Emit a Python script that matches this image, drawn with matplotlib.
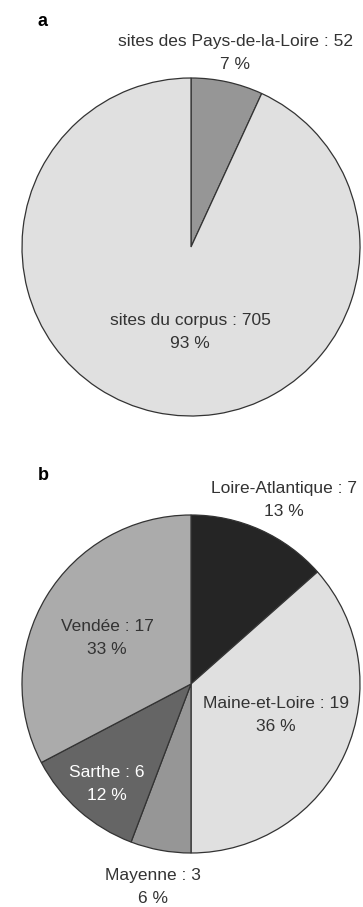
import matplotlib.pyplot as plt
from matplotlib import font_manager

# fonte étroite si disponible
names = {f.name for f in font_manager.fontManager.ttflist}
fam = ['Liberation Sans Narrow', 'DejaVu Sans'] if 'Liberation Sans Narrow' in names else ['Liberation Sans', 'DejaVu Sans']
plt.rcParams['font.family'] = fam

# données
labels_a = ['sites des Pays-de-la-Loire', 'sites du corpus']
values_a = [52, 705]
pct_a = [7, 93]
colors_a = ['#969696', '#e0e0e0']

labels_b = ['Loire-Atlantique', 'Maine-et-Loire', 'Mayenne', 'Sarthe', 'Vendée']
values_b = [7, 19, 3, 6, 17]
pct_b = [13, 36, 6, 12, 33]
colors_b = ['#252525', '#e0e0e0', '#969696', '#656565', '#ababab']

W, H = 363, 907
R = 169
fig = plt.figure(figsize=(W / 100, H / 100), dpi=100)


def pie_axes(cx, cy):
    ax = fig.add_axes([(cx - R) / W, (H - cy - R) / H, 2 * R / W, 2 * R / H])
    ax.axis('off')
    return ax


def lab(ax, cx, cy, px, py, text, color='#333333'):
    ax.text((px - cx) / R, (cy - py) / R, text, ha='center', va='center',
            fontsize=12.5, color=color, linespacing=1.65, clip_on=False)


# camembert a
cxa, cya = 191, 247
ax1 = pie_axes(cxa, cya)
ax1.pie(values_a, colors=colors_a, startangle=90, counterclock=False, radius=1,
        wedgeprops=dict(edgecolor='#333333', linewidth=0.9))
ax1.set_xlim(-1, 1)
ax1.set_ylim(-1, 1)
lab(ax1, cxa, cya, 235, 53, f'{labels_a[0]} : {values_a[0]}\n{pct_a[0]} %')
lab(ax1, cxa, cya, 190, 332, f'{labels_a[1]} : {values_a[1]}\n{pct_a[1]} %')
fig.text(43 / W, 1 - 21 / H, 'a', fontsize=13, fontweight='bold', ha='center', va='center',
         family=['Liberation Sans', 'DejaVu Sans'])

# camembert b
cxb, cyb = 191, 684
ax2 = pie_axes(cxb, cyb)
ax2.pie(values_b, colors=colors_b, startangle=90, counterclock=False, radius=1,
        wedgeprops=dict(edgecolor='#333333', linewidth=0.9))
ax2.set_xlim(-1, 1)
ax2.set_ylim(-1, 1)
pos_b = [(284, 500), (276, 715), (153, 887), (107, 784), (107, 638)]
txt_col = ['#333333', '#333333', '#333333', 'white', '#333333']
for name, v, p, (px, py), c in zip(labels_b, values_b, pct_b, pos_b, txt_col):
    lab(ax2, cxb, cyb, px, py, f'{name} : {v}\n{p} %', color=c)
fig.text(43 / W, 1 - 476 / H, 'b', fontsize=13, fontweight='bold', ha='center', va='center',
         family=['Liberation Sans', 'DejaVu Sans'])

fig.savefig('out.png', dpi=100)
